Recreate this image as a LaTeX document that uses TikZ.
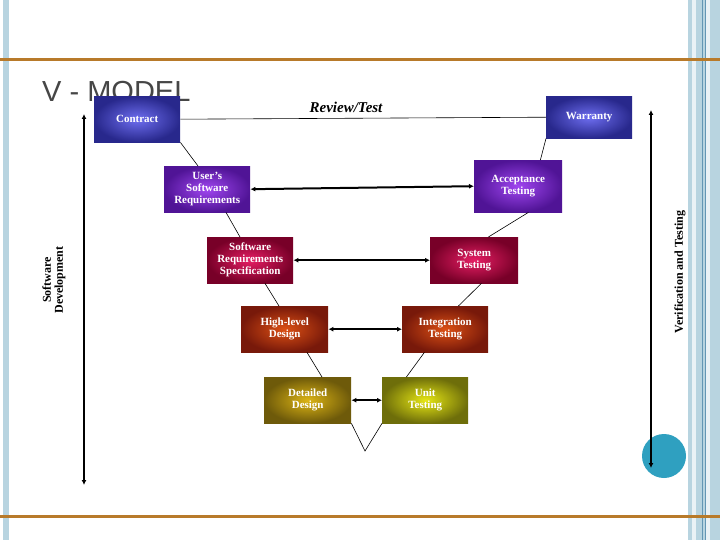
\documentclass[tikz,border=0pt]{standalone}
\usepackage{fontspec}
\setmainfont{Liberation Serif}
\newfontfamily\titlefont{Liberation Sans}
\usetikzlibrary{arrows.meta}
\definecolor{barblue}{RGB}{184,212,224}
\definecolor{linblue}{RGB}{100,150,180}
\definecolor{orng}{RGB}{184,122,42}
\definecolor{titlegray}{RGB}{70,70,70}
\definecolor{teal1}{RGB}{47,160,192}
\definecolor{bluein}{RGB}{110,110,240}\definecolor{blueout}{RGB}{40,40,140}
\definecolor{purin}{RGB}{160,70,240}\definecolor{purout}{RGB}{80,20,150}
\definecolor{crin}{RGB}{230,30,100}\definecolor{crout}{RGB}{120,0,40}
\definecolor{redin}{RGB}{220,80,20}\definecolor{redout}{RGB}{120,25,10}
\definecolor{olin}{RGB}{220,180,20}\definecolor{olout}{RGB}{110,90,10}
\definecolor{yein}{RGB}{230,230,20}\definecolor{yeout}{RGB}{110,110,10}
\begin{document}
\begin{tikzpicture}[x=1pt,y=-1pt,
  box/.style={draw=none,minimum width=86pt,minimum height=46pt,text=white,font=\bfseries\fontsize{11}{12}\selectfont,align=center,anchor=north west,inner sep=2pt},
  bluebox/.style={box,inner color=bluein,outer color=blueout},
  purplebox/.style={box,inner color=purin,outer color=purout},
  crimbox/.style={box,inner color=crin,outer color=crout},
  redbox/.style={box,inner color=redin,outer color=redout},
  olivebox/.style={box,inner color=olin,outer color=olout},
  yellbox/.style={box,inner color=yein,outer color=yeout},
  thin/.style={draw,line width=0.6pt},
  dbl/.style={draw,line width=2pt,{Latex[length=5pt,width=5pt]}-{Latex[length=5pt,width=5pt]}},
]
\useasboundingbox (0,0) rectangle (720,540);
\fill[white] (0,0) rectangle (720,540);
% side bars
\fill[barblue] (3,0) rectangle (9,540);
\fill[barblue] (688,0) rectangle (720,540);
\fill[white!70!barblue] (692,0) rectangle (696,540);
\fill[white!70!barblue] (706,0) rectangle (710,540);
\draw[linblue,line width=0.8pt] (702,0) -- (702,540) (705,0) -- (705,540);
% orange lines
\fill[orng] (0,58.5) rectangle (720,61.5);
\fill[orng] (0,514.5) rectangle (720,517.5);
% title
\node[anchor=base west,font=\titlefont\fontsize{29}{30}\selectfont,text=titlegray,inner sep=0] (title) at (42,102) {V - MODEL};
% boxes
\node[bluebox] (contract) at (94,96) {Contract};
\node[bluebox,minimum height=42pt] (warranty) at (546,96) {Warranty};
\node[purplebox] (usr) at (164,166) {User's\\Software\\Requirements};
\node[purplebox,minimum width=88pt,minimum height=52pt] (acc) at (474,160) {Acceptance\\Testing};
\node[crimbox] (srs) at (207,237) {Software\\Requirements\\Specification};
\node[crimbox,minimum width=88pt] (sys) at (430,237) {System\\Testing};
\node[redbox,minimum width=87pt] (hld) at (241,306) {High-level\\Design};
\node[redbox] (it) at (402,306) {Integration\\Testing};
\node[olivebox,minimum width=87pt] (dd) at (264,377) {Detailed\\Design};
\node[yellbox] (ut) at (382,377) {Unit\\Testing};
\coordinate (vb) at (365,451);
% V lines
\draw[thin] (contract.east) -- (warranty.west);
\node[font=\bfseries\itshape\fontsize{15}{16}\selectfont] (rt) at (346,107) {Review/Test};
\draw[thin] (contract.south east) -- ([xshift=34pt]usr.north west);
\draw[thin] ([xshift=62pt]usr.south west) -- ([xshift=33pt]srs.north west);
\draw[thin] ([xshift=58pt]srs.south west) -- ([xshift=38pt]hld.north west);
\draw[thin] ([xshift=66pt]hld.south west) -- ([xshift=58pt]dd.north west);
\draw[thin] (dd.south east) -- (vb) -- (ut.south west);
\draw[thin] (warranty.south west) -- ([xshift=-22pt]acc.north east);
\draw[thin] ([xshift=-34pt]acc.south east) -- ([xshift=-30pt]sys.north east);
\draw[thin] ([xshift=-37pt]sys.south east) -- ([xshift=-30pt]it.north east);
\draw[thin] ([xshift=-64pt]it.south east) -- ([xshift=-62pt]ut.north east);
% horizontal arrows
\draw[dbl] (usr.east) -- (acc.west);
\draw[dbl] (srs.east) -- (sys.west);
\draw[dbl] (hld.east) -- (it.west);
\draw[dbl] (dd.east) -- (ut.west);
% verticals
\fill[teal1] (664,456) circle (22);
\coordinate (lt) at (84,114); \coordinate (lb) at (84,485);
\coordinate (rtop) at (651,110); \coordinate (rbot) at (651,468);
\draw[dbl] (lt) -- (lb);
\draw[dbl] (rtop) -- (rbot);
\node[rotate=90,align=center,font=\bfseries\fontsize{12}{12}\selectfont] (sd) at (54,280) {Software\\Development};
\node[rotate=90,font=\bfseries\fontsize{12}{12}\selectfont] (vt) at (680,272) {Verification and Testing};
\end{tikzpicture}
\end{document}
